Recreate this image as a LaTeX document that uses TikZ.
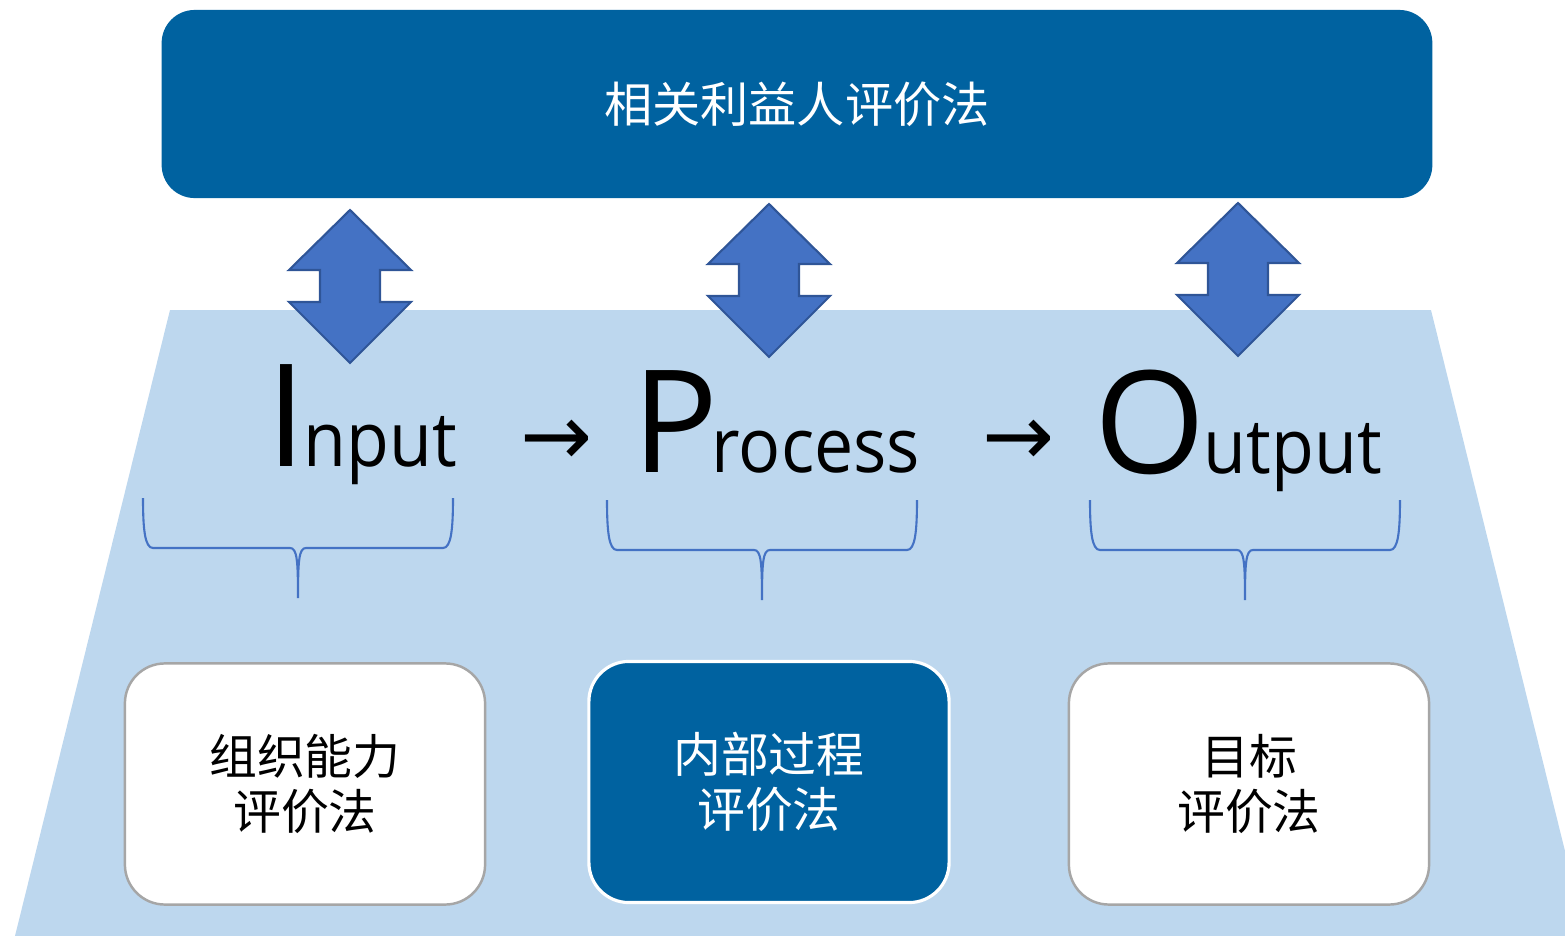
\documentclass[tikz,border=0pt]{standalone}
\usepackage{graphicx}
\usepackage{fontspec}
\setmainfont{Open Sans}
\newfontfamily\cjk{Noto Sans CJK SC}
\newfontfamily\symfont{DejaVu Sans}
\usetikzlibrary{calc}

\definecolor{deepblue}{RGB}{0,98,160}
\definecolor{paleblue}{RGB}{189,215,238}
\definecolor{arrblue}{RGB}{68,114,196}
\definecolor{arredge}{RGB}{47,85,151}
\definecolor{boxgray}{RGB}{166,166,166}

\newcommand{\narrow}[1]{\scalebox{0.92}[1]{#1}}

\tikzset{
  bigcap/.style={inner sep=0pt, anchor=base, font=\fontsize{40.6pt}{40.6pt}\selectfont},
  smallword/.style={inner sep=0pt, anchor=base west, font=\fontsize{21.6pt}{21.6pt}\selectfont},
  flowarrow/.style={inner sep=0pt, font=\symfont\fontsize{24.5pt}{24.5pt}\selectfont},
  methodbox/.style={rounded corners=0.4cm, minimum width=3.6cm, minimum height=2.41cm,
    align=center, inner sep=0pt, font=\cjk\fontsize{13.6pt}{15.6pt}\selectfont},
  plainbox/.style={methodbox, fill=white, draw=boxgray, line width=0.7pt, text=black},
  keybox/.style={methodbox, fill=deepblue, draw=white, line width=0.9pt, text=white},
  dblarr/.pic={
    \draw[fill=arrblue, draw=arredge, line width=0.6pt, line join=miter]
      (0,0) -- (61,60) -- (30,60) -- (30,92) -- (61,92) -- (0,153)
      -- (-61,92) -- (-30,92) -- (-30,60) -- (-61,60) -- cycle;
  },
  brc/.pic={
    \draw[arrblue, line width=0.6pt]
      (0,0) .. controls (0,32) and (2,50) .. (10,50) -- (147,50)
      .. controls (154,50) and (155,62) .. (155,100)
      .. controls (155,62) and (156,50) .. (163,50) -- (300,50)
      .. controls (308,50) and (310,32) .. (310,0);
  }
}

\begin{document}
\begin{tikzpicture}[x=0.01cm, y=-0.01cm]
  \useasboundingbox (0,0) rectangle (1565,936);

  % trapezoid base
  \fill[paleblue] (170,310) -- (1431,310) -- (1565,851) -- (1565,936) -- (15,936) -- cycle;

  % stakeholder box on top
  \node[fill=deepblue, rounded corners=0.33cm, minimum width=12.7cm, minimum height=1.88cm,
        text=white, font=\cjk\fontsize{13.7pt}{13.7pt}\selectfont, inner sep=0pt]
        (stake) at (797,104) {相关利益人评价法};

  % double arrows
  \pic at (350,210) {dblarr};
  \pic at (769,204) {dblarr};
  \pic at (1238,203) {dblarr};

  % Input -> Process -> Output
  \node[bigcap] (inI) at (286,466) {I};
  \node[smallword] (inRest) at (303,466) {\narrow{nput}};
  \node[flowarrow] (arrA) at (557,443) {→};
  \node[bigcap, anchor=base west] (prP) at (632,472) {P};
  \node[smallword] (prRest) at (711,472) {\narrow{rocess}};
  \node[flowarrow] (arrB) at (1019,443) {→};
  \node[bigcap, anchor=base west] (ouO) at (1094,473) {O};
  \node[smallword] (ouRest) at (1203,473) {\narrow{utput}};

  % braces
  \pic at (143,498) {brc};
  \pic at (607,500) {brc};
  \pic at (1090,500) {brc};

  % method boxes
  \node[plainbox] (cap) at (305,784) {组织能力\\评价法};
  \node[keybox] (proc) at (769,782) {内部过程\\评价法};
  \node[plainbox] (goal) at (1249,784) {目标\\评价法};
\end{tikzpicture}
\end{document}
